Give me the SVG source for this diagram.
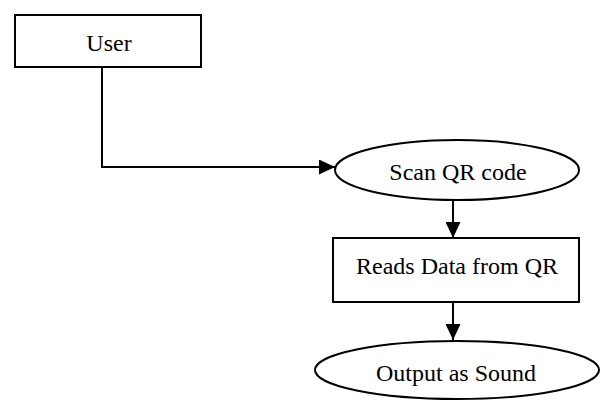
<svg xmlns="http://www.w3.org/2000/svg" width="606" height="401" viewBox="0 0 606 401">
<style>
.box{fill:#fff;stroke:#000;stroke-width:2}
.conn{fill:none;stroke:#000;stroke-width:2}
text{font-family:"Liberation Serif","Times New Roman",serif;font-size:24px;fill:#000;text-anchor:middle}
</style>
<defs>
<marker id="arr" markerWidth="16" markerHeight="15" refX="16" refY="7.5" orient="auto" markerUnits="userSpaceOnUse">
<path d="M0,0 L16,7.5 L0,15 Z" fill="#000"/>
</marker>
</defs>
<rect width="606" height="401" fill="#fff"/>
<g id="connectors">
<path class="conn" d="M102,67 V167 H335" marker-end="url(#arr)"/>
<path class="conn" d="M453,200 V238" marker-end="url(#arr)"/>
<path class="conn" d="M453,302 V340" marker-end="url(#arr)"/>
</g>
<g id="user">
<rect class="box" x="15" y="15" width="186" height="52"/>
<text x="109" y="51">User</text>
</g>
<g id="scan">
<ellipse class="box" cx="457" cy="170" rx="122" ry="30"/>
<text x="458" y="180">Scan QR code</text>
</g>
<g id="reads">
<rect class="box" x="333" y="238" width="246" height="64"/>
<text x="457" y="274">Reads Data from QR</text>
</g>
<g id="output">
<ellipse class="box" cx="457" cy="370" rx="142" ry="29"/>
<text x="456" y="381">Output as Sound</text>
</g>
</svg>
